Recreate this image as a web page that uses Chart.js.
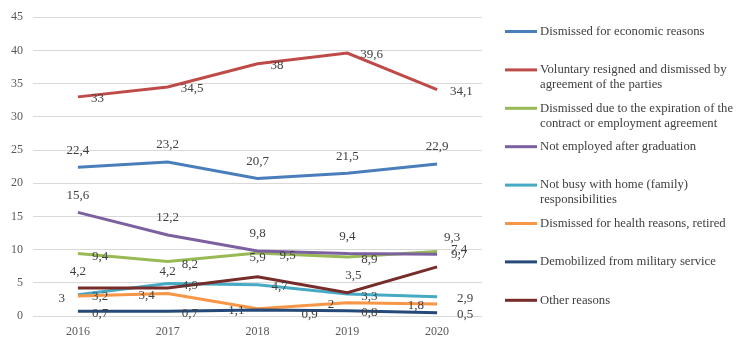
<!DOCTYPE html>
<html>
<head>
<meta charset="utf-8">
<script src="https://cdn.jsdelivr.net/npm/chart.js@4.4.1/dist/chart.umd.min.js"></script>
<style>
html,body{margin:0;padding:0;background:#fff;}
#wrap{width:750px;height:349px;position:relative;}
</style>
</head>
<body>
<div id="wrap"><canvas id="c" width="750" height="349"></canvas></div>
<script>
const years = ['2016', '2017', '2018', '2019', '2020'];

const economic   = [22.4, 23.2, 20.7, 21.5, 22.9];
const voluntary  = [33, 34.5, 38, 39.6, 34.1];
const expiration = [9.4, 8.2, 9.5, 8.9, 9.7];
const graduation = [15.6, 12.2, 9.8, 9.4, 9.3];
const homeFamily = [3.2, 4.9, 4.7, 3.3, 2.9];
const health     = [3, 3.4, 1.1, 2, 1.8];
const military   = [0.7, 0.7, 0.9, 0.8, 0.5];
const other      = [4.2, 4.2, 5.9, 3.5, 7.4];

const seriesNames = [
  ['Dismissed for economic reasons'],
  ['Voluntary resigned and dismissed by', 'agreement of the parties'],
  ['Dismissed due to the expiration of the', 'contract or employment agreement'],
  ['Not employed after graduation'],
  ['Not busy with home (family)', 'responsibilities'],
  ['Dismissed for health reasons, retired'],
  ['Demobilized from military service'],
  ['Other reasons']
];

const seriesValues = [economic, voluntary, expiration, graduation, homeFamily, health, military, other];
const colors = ['#4a7ebb', '#be4b48', '#98b954', '#7d60a0', '#46aac5', '#f79646', '#254a7a', '#772c2a'];

// label placement style per series
const labelStyle = [
  {align: 'center', dx: 0,   dy: -17},
  {align: 'left',   dx: 13,  dy: 2},
  {align: 'left',   dx: 14,  dy: 3},
  {align: 'center', dx: 0,   dy: -17},
  {align: 'left',   dx: 14,  dy: 2},
  {align: 'right',  dx: -13, dy: 2},
  {align: 'left',   dx: 14,  dy: 2},
  {align: 'center', dx: 0,   dy: -17}
];
const labelNudge = {'3-4': [15, 0], '7-4': [22, 0], '6-2': [30, 3], '2-2': [8, 0], '7-2': [0, -2], '7-3': [6, 0], '4-4': [6, 0], '6-4': [6, 0]};

const FONT = "'Liberation Serif', 'Times New Roman', serif";

const labelPlugin = {
  id: 'valueLabels',
  afterDatasetsDraw(chart) {
    const ctx = chart.ctx;
    ctx.save();
    ctx.font = '13px ' + FONT;
    ctx.fillStyle = '#404040';
    ctx.textBaseline = 'middle';
    chart.data.datasets.forEach((ds, di) => {
      const meta = chart.getDatasetMeta(di);
      const st = labelStyle[di];
      meta.data.forEach((pt, i) => {
        const n = labelNudge[di + '-' + i] || [0, 0];
        ctx.textAlign = st.align;
        ctx.fillText(String(ds.data[i]).replace('.', ','), pt.x + st.dx + n[0], pt.y + st.dy + n[1]);
      });
    });
    ctx.restore();
  }
};

const legendPlugin = {
  id: 'sideLegend',
  afterDraw(chart) {
    const ctx = chart.ctx;
    ctx.save();
    ctx.font = '12.7px ' + FONT;
    ctx.fillStyle = '#404040';
    ctx.textBaseline = 'middle';
    ctx.textAlign = 'left';
    seriesNames.forEach((lines, i) => {
      const y = 31.5 + 38.4 * i;
      ctx.strokeStyle = colors[i];
      ctx.lineWidth = 3;
      ctx.beginPath();
      ctx.moveTo(505, y);
      ctx.lineTo(537, y);
      ctx.stroke();
      lines.forEach((t, k) => ctx.fillText(t, 540, y + 15 * k));
    });
    ctx.restore();
  }
};

const datasets = seriesValues.map((vals, i) => ({
  label: seriesNames[i].join(' '),
  data: vals,
  borderColor: colors[i],
  backgroundColor: colors[i],
  borderWidth: 3,
  pointRadius: 0,
  tension: 0,
  fill: false,
  order: seriesValues.length - i
}));

new Chart(document.getElementById('c'), {
  type: 'line',
  data: {labels: years, datasets: datasets},
  plugins: [labelPlugin, legendPlugin],
  options: {
    responsive: false,
    animation: false,
    layout: {padding: {top: 17, right: 268, left: 0, bottom: 0}},
    plugins: {legend: {display: false}, tooltip: {enabled: false}},
    scales: {
      x: {
        offset: true,
        grid: {display: false, drawTicks: false},
        border: {display: false},
        ticks: {font: {family: FONT, size: 12}, color: '#595959', padding: 9},
        afterFit(s) { s.height = 33; }
      },
      y: {
        min: 0, max: 45,
        ticks: {stepSize: 5, font: {family: FONT, size: 12}, color: '#595959', padding: 10},
        grid: {color: '#d9d9d9', lineWidth: 1, drawTicks: false},
        border: {display: false},
        afterFit(s) { s.width = 33; }
      }
    }
  }
});
</script>
</body>
</html>
